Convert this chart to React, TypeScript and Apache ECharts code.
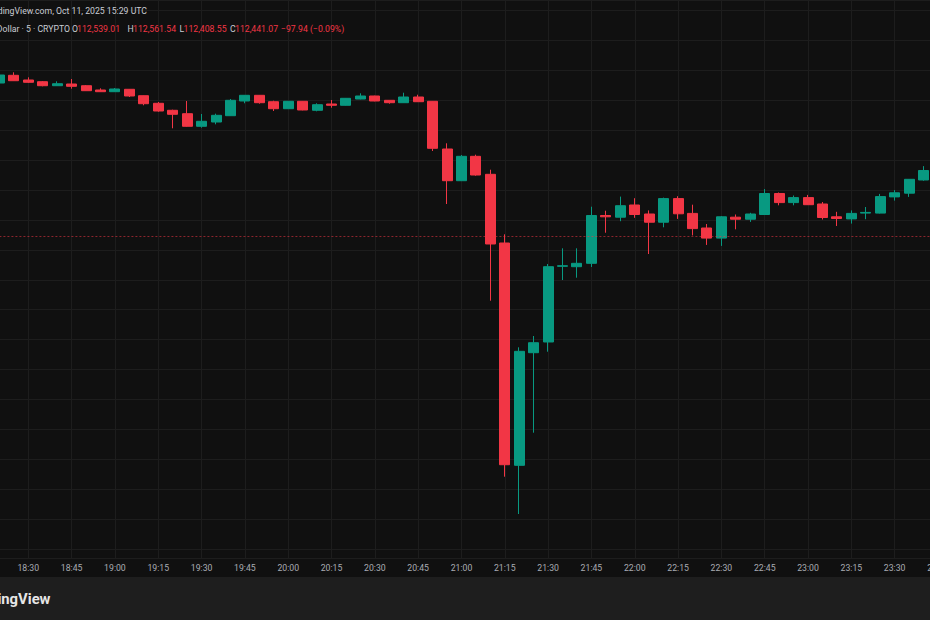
import React, { useEffect, useRef } from "react";
import * as echarts from "echarts";

const times = [
  "18:20", "18:25", "18:30", "18:35", "18:40", "18:45", "18:50", "18:55",
  "19:00", "19:05", "19:10", "19:15", "19:20", "19:25", "19:30", "19:35", "19:40", "19:45", "19:50", "19:55",
  "20:00", "20:05", "20:10", "20:15", "20:20", "20:25", "20:30", "20:35", "20:40", "20:45", "20:50", "20:55",
  "21:00", "21:05", "21:10", "21:15", "21:20", "21:25", "21:30", "21:35", "21:40", "21:45", "21:50", "21:55",
  "22:00", "22:05", "22:10", "22:15", "22:20", "22:25", "22:30", "22:35", "22:40", "22:45", "22:50", "22:55",
  "23:00", "23:05", "23:10", "23:15", "23:20", "23:25", "23:30", "23:35", "23:40", "23:45", "23:50",
];

const opens = [
  117581, 117839, 117682, 117625, 117491, 117548, 117491, 117347,
  117291, 117371, 117157, 116903, 116669, 116555, 116134, 116277, 116488, 116980, 117170, 116956,
  116722, 116970, 116669, 116879, 116836, 117046, 117147, 117003, 116923, 117113, 116970, 115375,
  114314, 115130, 114528, 112231, 104797, 108563, 108921, 111452, 111439, 111552, 113151, 113094,
  113502, 113201, 112926, 113716, 113221, 112733, 112395, 113094, 113027, 113184, 113887, 113582,
  113749, 113535, 113107, 113037, 113231, 113231, 113773, 113897, 114338,
];
const highs = [
  117916, 117939, 117772, 117648, 117638, 117715, 117515, 117404,
  117414, 117381, 117164, 116946, 116689, 116980, 116545, 116555, 117046, 117180, 117180, 116990,
  116980, 116980, 116903, 117013, 117080, 117237, 117157, 117013, 117257, 117190, 116980, 115565,
  115174, 115184, 114682, 112522, 108743, 109121, 111529, 112054, 112054, 113445, 113311, 113783,
  113729, 113321, 113749, 113796, 113512, 112866, 113134, 113184, 113241, 114034, 113920, 113820,
  113840, 113602, 113274, 113321, 113435, 113873, 114000, 114371, 114802,
];
const lows = [
  117548, 117648, 117581, 117471, 117481, 117391, 117314, 117281,
  117281, 117113, 116836, 116622, 116067, 116120, 116087, 116200, 116478, 116903, 116889, 116645,
  116712, 116669, 116635, 116755, 116826, 117036, 116970, 116889, 116913, 116946, 115308, 113535,
  114304, 114482, 110302, 104416, 103169, 105888, 108596, 110994, 111071, 111429, 112575, 112960,
  113074, 111863, 112756, 113037, 112485, 112167, 112134, 112689, 112937, 113174, 113492, 113492,
  113502, 113017, 112800, 112880, 113027, 113218, 113649, 113773, 114314,
];
const closes = [
  117849, 117658, 117605, 117491, 117558, 117471, 117324, 117291,
  117381, 117147, 116889, 116645, 116535, 116134, 116301, 116501, 117003, 117170, 116923, 116722,
  116970, 116679, 116856, 116836, 117070, 117147, 116980, 116923, 117113, 116956, 115398, 114314,
  115130, 114505, 112198, 104817, 108609, 108897, 111439, 111472, 111552, 113151, 113107, 113478,
  113184, 112926, 113716, 113208, 112713, 112395, 113107, 113027, 113201, 113887, 113582, 113749,
  113512, 113084, 113050, 113221, 113254, 113783, 113910, 114361, 114656,
];

const lastPrice = 112441.07;
const yMin = 101698;
const yMax = 120357;

const headerTop = "TradingView.com, Oct 11, 2025 15:29 UTC";
const symbolText = "Bitcoin / U.S. Dollar · 5 · CRYPTO";
const ohlcLabels = ["O", "H", "L", "C"];
const ohlcValues = ["112,539.01", "112,561.54", "112,408.55", "112,441.07"];
const changeText = "−97.94 (−0.09%)";

const UP = "#089981";
const DOWN = "#f23645";
const BG = "#101010";
const GRID = "#1d1d1d";
const FONT = "Roboto, 'Noto Sans', sans-serif";

export default function App() {
  const ref = useRef<HTMLDivElement>(null);

  useEffect(() => {
    if (!ref.current) return;
    const chart = echarts.init(ref.current, undefined, { renderer: "svg" });

    const candleData = times.map((t, i) =>
      i < opens.length ? [opens[i], closes[i], lows[i], highs[i]] : "-"
    );

    const quarter = (_i: number, v: string) => {
      const m = parseInt(String(v).split(":")[1], 10);
      return m % 15 === 0;
    };

    const labelXs = [72, 127.5, 179.5, 230];
    const valueXs = [77, 133, 183.5, 235];
    const headerY = 29;
    const graphics: any[] = [
      {
        type: "rect",
        shape: { x: 0, y: 577, width: 930, height: 43 },
        style: { fill: "#1e1e1e" },
        z: 100,
      },
      {
        type: "text",
        x: 50.5,
        y: 599,
        style: {
          text: "TradingView",
          fill: "#e6e6e6",
          font: `bold 14.8px ${FONT}`,
          align: "right",
          verticalAlign: "middle",
        },
        z: 101,
      },
      {
        type: "text",
        x: 147,
        y: 11,
        style: {
          text: headerTop,
          fill: "#c9ccd3",
          font: `8.7px ${FONT}`,
          align: "right",
          verticalAlign: "middle",
        },
        z: 101,
      },
      {
        type: "text",
        x: 70,
        y: headerY,
        style: {
          text: symbolText,
          fill: "#c9ccd3",
          font: `8.7px ${FONT}`,
          align: "right",
          verticalAlign: "middle",
        },
        z: 101,
      },
      {
        type: "text",
        x: 281,
        y: headerY,
        style: {
          text: changeText,
          fill: DOWN,
          font: `8.7px ${FONT}`,
          align: "left",
          verticalAlign: "middle",
        },
        z: 101,
      },
    ];
    ohlcLabels.forEach((l, i) => {
      graphics.push({
        type: "text",
        x: labelXs[i],
        y: headerY,
        style: { text: l, fill: "#c9ccd3", font: `8.7px ${FONT}`, align: "left", verticalAlign: "middle" },
        z: 101,
      });
      graphics.push({
        type: "text",
        x: valueXs[i],
        y: headerY,
        style: { text: ohlcValues[i], fill: DOWN, font: `8.7px ${FONT}`, align: "left", verticalAlign: "middle" },
        z: 101,
      });
    });

    chart.setOption({
      animation: false,
      backgroundColor: BG,
      grid: {
        left: -0.58,
        width: 953,
        top: 0,
        height: 558,
        containLabel: false,
        outerBoundsMode: "none",
      },
      xAxis: {
        type: "category",
        data: times,
        boundaryGap: false,
        axisLine: { show: false },
        axisTick: { show: false },
        axisLabel: {
          interval: quarter,
          color: "#a9acb3",
          fontFamily: FONT,
          fontSize: 8.7,
          margin: 5,
          hideOverlap: false,
        },
        splitLine: { show: true, interval: quarter, lineStyle: { color: GRID, width: 1 } },
      },
      yAxis: {
        type: "value",
        min: yMin,
        max: yMax,
        minInterval: 1000,
        maxInterval: 1000,
        splitNumber: 18,
        scale: true,
        axisLine: { show: false },
        axisTick: { show: false },
        axisLabel: { show: false },
        splitLine: { show: true, lineStyle: { color: GRID, width: 1 } },
      },
      series: [
        {
          type: "candlestick",
          data: candleData,
          barWidth: 10.5,
          itemStyle: {
            color: UP,
            color0: DOWN,
            borderColor: UP,
            borderColor0: DOWN,
            borderWidth: 1,
          },
          markLine: {
            silent: true,
            symbol: "none",
            label: { show: false },
            lineStyle: { color: DOWN, type: [2, 2], width: 1, opacity: 0.55 },
            data: [{ yAxis: lastPrice }],
          },
        },
      ],
      graphic: graphics,
    });

    return () => chart.dispose();
  }, []);

  return (
    <div
      ref={ref}
      style={{ position: "fixed", left: 0, top: 0, width: 930, height: 620, background: BG }}
    />
  );
}
